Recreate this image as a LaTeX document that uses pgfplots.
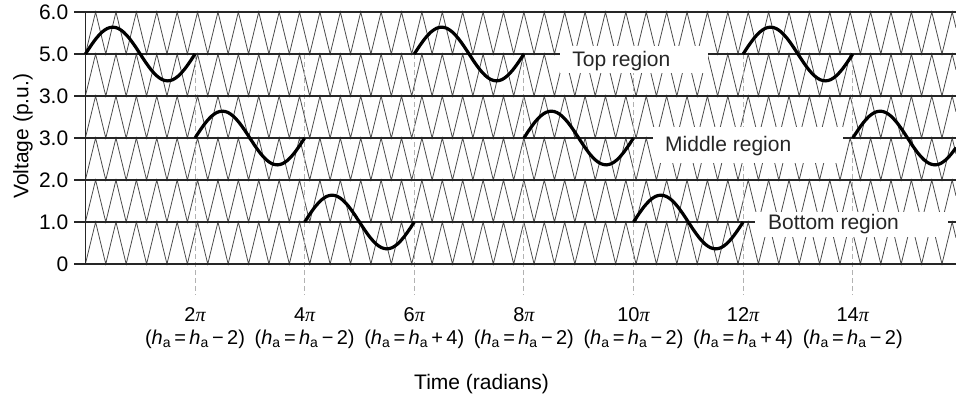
\documentclass[border=0pt]{standalone}
\usepackage{fontspec}
\setmainfont{Liberation Sans}
\newfontfamily\serif{Liberation Serif}
\usepackage{pgfplots}
\usepackage{pgfplotstable}
\pgfplotsset{compat=1.18}

% triangular carrier (one band, 0..1), x in units of pi
\pgfplotstableread{
x y
0.0000 0
0.1860 1
0.3721 0
0.5581 1
0.7442 0
0.9302 1
1.1163 0
1.3023 1
1.4884 0
1.6744 1
1.8605 0
2.0465 1
2.2326 0
2.4186 1
2.6047 0
2.7907 1
2.9767 0
3.1628 1
3.3488 0
3.5349 1
3.7209 0
3.9070 1
4.0930 0
4.2791 1
4.4651 0
4.6512 1
4.8372 0
5.0233 1
5.2093 0
5.3953 1
5.5814 0
5.7674 1
5.9535 0
6.1395 1
6.3256 0
6.5116 1
6.6977 0
6.8837 1
7.0698 0
7.2558 1
7.4419 0
7.6279 1
7.8140 0
8.0000 1
8.1860 0
8.3721 1
8.5581 0
8.7442 1
8.9302 0
9.1163 1
9.3023 0
9.4884 1
9.6744 0
9.8605 1
10.0465 0
10.2326 1
10.4186 0
10.6047 1
10.7907 0
10.9767 1
11.1628 0
11.3488 1
11.5349 0
11.7209 1
11.9070 0
12.0930 1
12.2791 0
12.4651 1
12.6512 0
12.8372 1
13.0233 0
13.2093 1
13.3953 0
13.5814 1
13.7674 0
13.9535 1
14.1395 0
14.3256 1
14.5116 0
14.6977 1
14.8837 0
15.0698 1
15.2558 0
15.4419 1
15.6279 0
15.8140 1
15.8840 0.624
}\carrier

% one cycle of the reference wave (offset from its band centre)
\pgfplotstableread{
t v
0.0 0
0.1 0.1978
0.2 0.3762
0.3 0.5178
0.4 0.6087
0.5 0.6400
0.6 0.6087
0.7 0.5178
0.8 0.3762
0.9 0.1978
1.0 0
1.1 -0.1978
1.2 -0.3762
1.3 -0.5178
1.4 -0.6087
1.5 -0.6400
1.6 -0.6087
1.7 -0.5178
1.8 -0.3762
1.9 -0.1978
2.0 0
}\sine

\newcommand{\pii}{{\serif\itshape π}}
\newcommand{\ha}{\textit{h}\textsubscript{a}}

\begin{document}
\begin{tikzpicture}[font=\fontsize{21}{25}\selectfont]
\begin{axis}[
  scale only axis, width=870.6pt, height=252pt,
  xmin=0, xmax=15.884, ymin=0, ymax=6,
  clip=false,
  axis line style={draw=none},
  major tick length=0pt, tick style={draw=none},
  xtick={2,4,6,8,10,12,14},
  xticklabels={
    {2\pii\\(\ha\,=\,\ha\,−\,2)},
    {4\pii\\(\ha\,=\,\ha\,−\,2)},
    {6\pii\\(\ha\,=\,\ha\,+\,4)},
    {8\pii\\(\ha\,=\,\ha\,−\,2)},
    {10\pii\\(\ha\,=\,\ha\,−\,2)},
    {12\pii\\(\ha\,=\,\ha\,+\,4)},
    {14\pii\\(\ha\,=\,\ha\,−\,2)}},
  ytick={0,1,2,3,4,5,6},
  yticklabels={0,1.0,2.0,3.0,3.0,5.0,6.0},
  yticklabel style={anchor=east, inner sep=0pt, xshift=-17pt, font=\fontsize{21}{25}\selectfont},
  xticklabel style={anchor=north, inner sep=0pt, yshift=-43.5pt, align=center, font=\fontsize{20}{23}\selectfont},
]
% carriers
\pgfplotsinvokeforeach{0,1,2,3,4,5}{
  \addplot[black!70, line width=0.8pt, no markers] table[x=x, y expr=\thisrow{y}+#1] {\carrier};
}
% dashed transition lines
\pgfplotsinvokeforeach{2,4,6,8,10,12,14}{
  \addplot[gray!60, line width=0.9pt, dash pattern=on 5pt off 3pt, no markers] coordinates {(#1,5) (#1,-0.74)};
}
% band boundaries
\addplot[black!85, line width=1.7pt, no markers] coordinates {(-0.2,0) (15.884,0)};
\addplot[black!85, line width=1.7pt, no markers] coordinates {(-0.2,1) (15.884,1)};
\addplot[black!85, line width=2.7pt, no markers] coordinates {(-0.2,2) (15.884,2)};
\addplot[black!85, line width=1.7pt, no markers] coordinates {(-0.2,3) (15.884,3)};
\addplot[black!85, line width=2.7pt, no markers] coordinates {(-0.2,4) (15.884,4)};
\addplot[black!85, line width=1.7pt, no markers] coordinates {(-0.2,5) (15.884,5)};
\addplot[black!85, line width=1.7pt, no markers] coordinates {(-0.2,6) (15.884,6)};
\addplot[black!85, line width=1.7pt, no markers] coordinates {(0,0) (0,6)};
% reference wave segments
\addplot[black, line width=3.2pt, smooth, no markers] table[x expr=\thisrow{t}+0,  y expr=\thisrow{v}+5] {\sine};
\addplot[black, line width=3.2pt, smooth, no markers] table[x expr=\thisrow{t}+2,  y expr=\thisrow{v}+3] {\sine};
\addplot[black, line width=3.2pt, smooth, no markers] table[x expr=\thisrow{t}+4,  y expr=\thisrow{v}+1] {\sine};
\addplot[black, line width=3.2pt, smooth, no markers] table[x expr=\thisrow{t}+6,  y expr=\thisrow{v}+5] {\sine};
\addplot[black, line width=3.2pt, smooth, no markers] table[x expr=\thisrow{t}+8,  y expr=\thisrow{v}+3] {\sine};
\addplot[black, line width=3.2pt, smooth, no markers] table[x expr=\thisrow{t}+10, y expr=\thisrow{v}+1] {\sine};
\addplot[black, line width=3.2pt, smooth, no markers] table[x expr=\thisrow{t}+12, y expr=\thisrow{v}+5] {\sine};
\addplot[black, line width=3.2pt, smooth, no markers] coordinates {
 (14,3) (14.1,3.1978) (14.2,3.3762) (14.3,3.5178) (14.4,3.6087) (14.5,3.64)
 (14.6,3.6087) (14.7,3.5178) (14.8,3.3762) (14.9,3.1978) (15,3)
 (15.1,2.8022) (15.2,2.6238) (15.3,2.4822) (15.4,2.3913) (15.5,2.36)
 (15.6,2.3913) (15.7,2.4822) (15.8,2.6238) (15.884,2.7719)};
% region labels
\fill[white] (axis cs:8.661,4.54) rectangle (axis cs:11.361,5.19);
\fill[white] (axis cs:10.358,2.40) rectangle (axis cs:13.825,3.26);
\fill[white] (axis cs:12.215,0.64) rectangle (axis cs:15.738,1.24);
\node[anchor=base west, inner sep=0pt, text=black!85] at (axis cs:8.88,4.70) {Top region};
\node[anchor=base west, inner sep=0pt, text=black!85] at (axis cs:10.575,2.69) {Middle region};
\node[anchor=base west, inner sep=0pt, text=black!85] at (axis cs:12.454,0.81) {Bottom region};
% axis titles
\node[anchor=base, inner sep=0pt] at (axis cs:7.227,-2.976) {Time (radians)};
\node[rotate=90, anchor=base, inner sep=0pt] at (axis cs:-1.038,3.04) {Voltage (p.u.)};
\coordinate (BL) at (axis cs:-1.558,-3.143);
\coordinate (TR) at (axis cs:15.884,6.286);
\end{axis}
\pgfresetboundingbox
\path[use as bounding box] (BL) rectangle (TR);
\end{tikzpicture}
\end{document}
